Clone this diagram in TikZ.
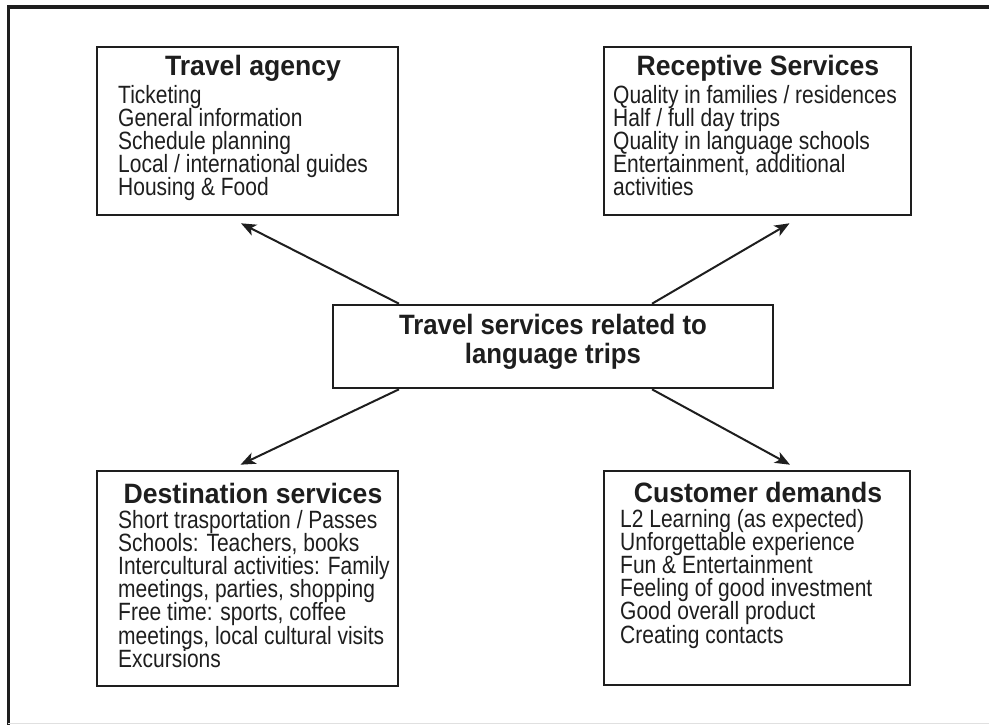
\documentclass[tikz,border=0pt]{standalone}
\usepackage{fontspec}
\usetikzlibrary{arrows.meta}
\newfontfamily\bodyfont{Liberation Sans}[FakeStretch=0.84]
\newfontfamily\headfont{Liberation Sans}[FakeStretch=0.95]
\newfontfamily\hubfont{Liberation Sans}[FakeStretch=0.92]
\definecolor{ink}{HTML}{1E1E1E}
\begin{document}
\begin{tikzpicture}[x=1pt,y=-1pt,
  box/.style={draw=ink, line width=2.6pt, rectangle, inner sep=0pt},
  boxtitle/.style={text=ink, inner sep=0pt, anchor=base, font=\headfont\bfseries\fontsize{28}{29}\selectfont},
  hubtext/.style={text=ink, inner sep=0pt, anchor=base, font=\hubfont\bfseries\fontsize{28}{29}\selectfont},
  boxline/.style={text=ink, inner sep=0pt, anchor=base west, font=\bodyfont\fontsize{25}{26}\selectfont},
  arr/.style={draw=ink, line width=2pt, -{Stealth[length=15pt,width=12pt,inset=4pt]}}]
\useasboundingbox (0,0) rectangle (989,725);

% page frame
\draw[ink, line width=3.6pt] (8.5,725) -- (8.5,7) -- (989,7);
\draw[black!12, line width=1pt] (8,723.5) -- (989,723.5);

% boxes
\node[box, minimum width=301pt, minimum height=168pt] (agency) at (247.5,131) {};
\node[box, minimum width=307pt, minimum height=168pt] (receptive) at (757.5,131) {};
\node[box, minimum width=440pt, minimum height=83pt] (hub) at (553,346.5) {};
\node[box, minimum width=301pt, minimum height=215pt] (destination) at (247.5,578.5) {};
\node[box, minimum width=306pt, minimum height=214pt] (customer) at (757,578) {};

% central text
\node[hubtext] (hub1) at (553,334) {Travel services related to};
\node[hubtext] (hub2) at (553,363) {language trips};

% travel agency
\node[boxtitle] (agencyT) at (253,76) {Travel agency};
\foreach \t [count=\i] in {Ticketing, General information, Schedule planning,
    Local / international guides, Housing \& Food}
  \node[boxline] (agency\i) at (118,{103+23.2*(\i-1)}) {\t};

% receptive services
\node[boxtitle] (receptiveT) at (758,76) {Receptive Services};
\foreach \t [count=\i] in {Quality in families / residences, Half / full day trips,
    Quality in language schools, {Entertainment, additional}, activities}
  \node[boxline] (receptive\i) at (613,{103+23.2*(\i-1)}) {\t};

% destination services
\node[boxtitle] (destinationT) at (253,503) {Destination services};
\foreach \t [count=\i] in {Short trasportation / Passes, {Schools: Teachers, books},
    Intercultural activities: Family, {meetings, parties, shopping},
    {Free time: sports, coffee}, {meetings, local cultural visits}, Excursions}
  \node[boxline] (destination\i) at (118,{528+23.2*(\i-1)}) {\t};

% customer demands
\node[boxtitle] (customerT) at (758,502) {Customer demands};
\foreach \t [count=\i] in {L2 Learning (as expected), Unforgettable experience,
    Fun \& Entertainment, Feeling of good investment, Good overall product,
    Creating contacts}
  \node[boxline] (customer\i) at (620,{527+23.2*(\i-1)}) {\t};

% connectors
\draw[arr] ([xshift=-154pt]hub.north) -- ([xshift=-6.5pt,yshift=-7pt]agency.south);
\draw[arr] ([xshift=99pt]hub.north) -- ([xshift=32pt,yshift=-7pt]receptive.south);
\draw[arr] ([xshift=-154pt]hub.south) -- ([xshift=-7pt,yshift=5pt]destination.north);
\draw[arr] ([xshift=99pt]hub.south) -- ([xshift=33pt,yshift=5pt]customer.north);
\end{tikzpicture}
\end{document}
